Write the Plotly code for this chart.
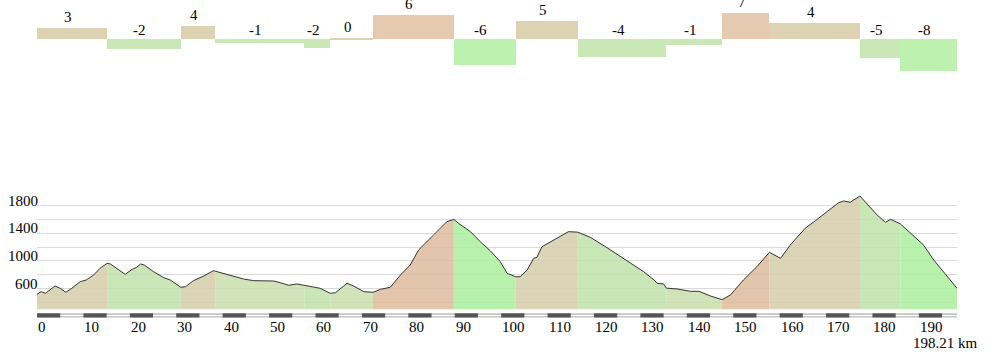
import plotly.graph_objects as go

# ---------------- data ----------------
# gradient segments (km boundaries), bar values (%) and their labels
seg_bounds = [0, 15.1, 31.0, 38.4, 57.6, 63.2, 72.4, 89.8, 103.1, 116.5,
              135.6, 147.6, 157.8, 177.3, 186.0, 198.21]
seg_values = [2.9, -2.4, 3.4, -1.0, -2.25, 0.3, 6.0, -6.35, 4.6, -4.35,
              -1.5, 6.5, 4.0, -4.6, -7.85]
seg_labels = ["3", "-2", "4", "-1", "-2", "0", "6", "-6", "5", "-4",
              "-1", "7", "4", "-5", "-8"]

# elevation profile
dist_km = [0, 0.9, 1.8, 3.9, 5.0, 6.2, 7.5, 9.3, 10.6, 12.2, 13.6, 15.1, 15.8,
           19.0, 20.5, 21.5, 22.3, 23.1, 25.1, 27.3, 28.7, 31.0, 32.0, 33.7,
           35.9, 38.0, 38.4, 42.4, 44.5, 46.7, 49.6, 51.0, 52.4, 54.2, 56.0,
           57.6, 59.3, 61.0, 63.2, 64.3, 66.8, 68.2, 70.4, 72.4, 74.0, 76.1,
           78.3, 80.4, 82.2, 84.0, 85.8, 88.3, 89.8, 90.8, 93.4, 95.5, 97.7,
           99.8, 101.3, 103.1, 104.1, 105.6, 107.0, 107.7, 108.8, 110.6, 112.8,
           114.5, 116.5, 119.2, 122.8, 126.4, 130.7, 133.0, 133.6, 135.0, 135.6,
           137.9, 140.8, 142.6, 145.1, 147.6, 149.4, 152.2, 155.1, 157.8,
           160.2, 162.3, 165.5, 167.7, 170.2, 172.7, 173.8, 175.2, 177.3,
           178.8, 181.0, 182.8, 183.9, 186.0, 188.2, 191.0, 193.2, 196.1,
           198.21]
elev_m = [517, 555, 531, 637, 604, 546, 604, 699, 724, 796, 893, 965, 955,
          806, 878, 907, 955, 940, 844, 757, 724, 618, 627, 714,
          781, 858, 851, 781, 738, 714, 709, 709, 685, 647, 666,
          648, 618, 604, 531, 540, 676, 637, 555, 546, 589, 618,
          796, 940, 1157, 1277, 1384, 1566, 1601, 1543, 1422, 1277, 1143,
          988, 820, 771, 771, 868, 1037, 1052, 1205, 1277, 1360,
          1422, 1415, 1341, 1191, 1037, 844, 720, 676, 666, 606,
          594, 560, 560, 492, 440, 507, 724, 916, 1124,
          1037, 1230, 1471, 1581, 1711, 1841, 1866, 1847, 1938,
          1832, 1663, 1558, 1601, 1535, 1399, 1230, 1013, 771,
          604]

x_ticks = list(range(0, 200, 10))
y_grid = list(range(400, 2001, 200))
y_labels = [600, 1000, 1400, 1800]
total_km = 198.21

# ---------------- styling helpers ----------------
FONT = "Liberation Serif"


def top_color(lbl):
    g = int(lbl)
    if g >= 6:
        return "#e5cab0"
    if g >= 0:
        return "#ddd3b3"
    if g >= -5:
        return "#c9e8b6"
    return "#bcf1b0"


def fill_color(lbl):
    g = int(lbl)
    if g >= 6:
        return "rgba(221,187,155,0.85)"
    if g > 0:
        return "rgba(214,205,169,0.85)"
    if g >= -1:
        return "rgba(202,222,174,0.85)"
    if g >= -5:
        return "rgba(190,226,169,0.85)"
    return "rgba(171,238,157,0.85)"


fig = go.Figure()

# ---------------- elevation fills ----------------
for i, lbl in enumerate(seg_labels):
    a, b = seg_bounds[i], seg_bounds[i + 1]
    xs = [d for d in dist_km if a - 1e-9 <= d <= b + 1e-9]
    ys = [e for d, e in zip(dist_km, elev_m) if a - 1e-9 <= d <= b + 1e-9]
    fig.add_trace(go.Scatter(x=xs, y=ys, mode="none", fill="tozeroy",
                             fillcolor=fill_color(lbl), hoverinfo="skip",
                             showlegend=False, xaxis="x", yaxis="y"))

fig.add_trace(go.Scatter(x=dist_km, y=elev_m, mode="lines",
                         line=dict(color="#333333", width=1),
                         showlegend=False, xaxis="x", yaxis="y"))

# ---------------- gradient strip ----------------
mids = [(seg_bounds[i] + seg_bounds[i + 1]) / 2 for i in range(len(seg_values))]
widths = [seg_bounds[i + 1] - seg_bounds[i] for i in range(len(seg_values))]
fig.add_trace(go.Bar(x=mids, y=seg_values, width=widths,
                     marker=dict(color=[top_color(l) for l in seg_labels],
                                 line=dict(width=0)),
                     showlegend=False, xaxis="x", yaxis="y2"))

annotations = []
for m, v, lbl in zip(mids, seg_values, seg_labels):
    annotations.append(dict(x=m, y=max(v, 0), xref="x", yref="y2",
                            text=lbl, showarrow=False, xshift=-4,
                            yshift=11 if v >= 0 else 9.5, yanchor="middle",
                            font=dict(family=FONT, size=15, color="black")))

# x tick labels (left-aligned at tick)
H = 356.0
for k in x_ticks:
    annotations.append(dict(x=k, y=(H - 326.7) / H, xref="x", yref="paper",
                            text=str(k), showarrow=False, xanchor="left",
                            yanchor="middle", xshift=-1,
                            font=dict(family=FONT, size=15, color="black")))
annotations.append(dict(x=(979.5 - 37) / 920, y=(H - 343.3) / H, xref="paper",
                        yref="paper", text=f"{total_km:.2f} km", showarrow=False,
                        xanchor="right", yanchor="middle",
                        font=dict(family=FONT, size=15, color="black")))
# y labels (sitting on the gridline)
for v in y_labels:
    annotations.append(dict(x=0, y=v, xref="paper", yref="y", text=str(v),
                            showarrow=False, xanchor="right", yanchor="middle",
                            xshift=3, yshift=5,
                            font=dict(family=FONT, size=15, color="black")))

# ---------------- distance scale bar ----------------
bar_top = (H - 313.3) / H
bar_bot = (H - 317.5) / H
shapes = [dict(type="rect", xref="x", yref="paper", x0=0, x1=total_km,
               y0=bar_bot, y1=bar_top, fillcolor="#c4c4c4", line=dict(width=0),
               layer="above"),
          dict(type="rect", xref="x", yref="paper", x0=0, x1=total_km,
               y0=(H - 315.9) / H, y1=(H - 314.9) / H, fillcolor="#ffffff",
               line=dict(width=0), layer="above")]
for k in x_ticks:
    shapes.append(dict(type="rect", xref="x", yref="paper", x0=k,
                       x1=min(k + 5, total_km), y0=bar_bot, y1=bar_top,
                       fillcolor="#555555", line=dict(width=0), layer="above"))

fig.update_layout(
    width=995, height=356,
    margin=dict(l=37, r=38, t=0, b=0),
    paper_bgcolor="white", plot_bgcolor="white",
    showlegend=False,
    font=dict(family=FONT),
    xaxis=dict(range=[0, total_km], domain=[0, 1], showgrid=False,
               zeroline=False, showticklabels=False, showline=False,
               anchor="y", fixedrange=True),
    yaxis=dict(range=[300, 2000], domain=[(H - 309.3) / H, (H - 191.7) / H],
               tickvals=y_grid, showticklabels=False, showgrid=True,
               gridcolor="#dadada", gridwidth=1, zeroline=False,
               showline=False, ticks=""),
    yaxis2=dict(range=[-(80 - 39.3) / 4, 39.3 / 4], domain=[1 - 80 / H, 1],
                showgrid=False, zeroline=False, showticklabels=False,
                showline=False, anchor="x"),
    annotations=annotations,
    shapes=shapes,
    bargap=0,
)

fig.write_html("out.html",
               config={"displayModeBar": False},
               post_script="document.body.style.margin='0';"
                           "document.body.style.overflow='hidden';")
